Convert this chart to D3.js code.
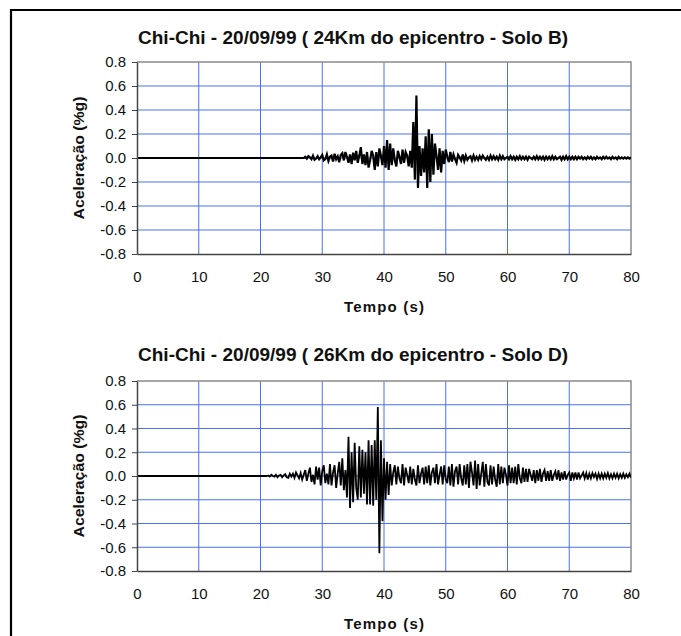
<!DOCTYPE html>
<html>
<head>
<meta charset="utf-8">
<script src="https://d3js.org/d3.v7.min.js"></script>
<style>
  body { margin: 0; background: #fff; }
  svg { display: block; font-family: "Liberation Sans", Arial, sans-serif; }
</style>
</head>
<body>
<svg id="chart" width="681" height="636"></svg>
<script>
// tick labels
var xTicks = [0, 10, 20, 30, 40, 50, 60, 70, 80];
var yTicks = [0.8, 0.6, 0.4, 0.2, 0.0, -0.2, -0.4, -0.6, -0.8];

var titles = ["Chi-Chi - 20/09/99 ( 24Km do epicentro - Solo B)",
              "Chi-Chi - 20/09/99 ( 26Km do epicentro - Solo D)"];

// Solo B record: quiet until 27 s, then samples every 0.25 s
var soloB_start = 27;
var soloB_dt = 0.25;
var soloB_acc = [
  0.01,-0.005,0.015,0.005,-0.01,0.02,-0.015,-0.005,
  0.015,-0.01,0.005,0.025,-0.02,-0.01,0.03,-0.025,
  0.01,0.02,-0.03,0.035,-0.01,0.015,-0.035,0.025,
  0.04,-0.02,0.05,0.01,-0.04,0.03,-0.05,0.045,
  -0.02,0.06,-0.04,0.02,0.09,-0.05,0.03,-0.06,
  0.05,-0.08,-0.02,0.06,0.02,-0.1,0.05,-0.07,
  0.08,0.02,-0.06,0.1,-0.08,0.15,-0.1,0.12,
  -0.06,0.08,-0.02,-0.07,0.06,0.01,-0.05,0.07,
  -0.04,0.05,0.02,-0.07,0.06,-0.08,0.3,-0.18,
  0.52,-0.25,0.1,-0.15,0.08,-0.12,0.18,-0.25,
  0.24,-0.2,0.2,-0.14,0.12,0.02,-0.1,0.08,
  -0.12,0.06,-0.05,0.07,0.01,-0.035,0.05,-0.03,
  0.03,-0.01,-0.04,0.025,0.005,-0.02,0.03,-0.025,
  0.02,-0.015,0.005,0.015,-0.02,0.02,-0.015,0.01,
  -0.015,0.015,-0.01,0.02,0.0,-0.015,0.01,-0.015,
  0.02,-0.01,0.015,-0.01,0.01,-0.015,0.02,-0.01,
  0.015,-0.01,0.0,0.01,-0.01,0.015,-0.01,0.01,
  -0.015,0.01,-0.01,0.015,-0.01,0.01,-0.01,0.01,
  -0.015,0.01,0.0,-0.01,0.01,-0.01,0.015,-0.01,
  0.01,-0.01,0.01,-0.015,0.01,-0.01,0.01,-0.01,
  0.015,-0.01,0.01,-0.01,0.0,0.01,-0.015,0.01,
  -0.01,0.015,-0.01,0.01,-0.01,0.01,-0.01,0.01,
  -0.01,0.01,-0.005,0.01,-0.01,0.005,-0.01,0.01,
  -0.005,0.01,-0.01,0.005,-0.01,0.01,-0.005,0.005,
  -0.01,0.01,-0.005,0.01,-0.005,0.005,-0.01,0.01,
  -0.005,0.005,-0.01,0.01,-0.005,0.005,-0.005,0.005,
  -0.005,0.005,-0.005,0.005
];

// Solo D record: quiet until 21 s
var soloD_start = 21;
var soloD_dt = 0.25;
var soloD_acc = [
  0.005,-0.005,0.01,0.0,-0.005,0.01,-0.01,0.005,
  0.01,-0.01,0.005,0.015,-0.01,-0.015,0.02,-0.005,
  0.02,-0.015,0.03,0.005,-0.02,0.025,-0.03,0.01,
  0.05,-0.04,0.02,0.07,-0.05,0.01,-0.07,0.08,
  -0.03,0.07,-0.08,0.04,0.09,-0.06,0.02,-0.07,
  0.1,-0.08,0.03,0.09,-0.1,0.02,0.12,-0.08,
  0.15,-0.12,0.05,-0.18,0.33,-0.27,0.2,-0.22,
  0.28,-0.1,-0.2,0.25,-0.18,0.22,-0.15,0.2,
  -0.24,0.3,-0.24,0.26,-0.25,0.3,-0.2,0.58,
  -0.65,0.3,-0.38,0.15,-0.2,0.12,-0.16,0.1,
  -0.08,0.03,0.09,-0.07,0.08,-0.02,-0.06,0.1,
  -0.08,0.07,0.01,-0.06,0.08,-0.07,0.06,-0.03,
  -0.08,0.09,-0.06,0.02,0.07,-0.07,0.08,-0.06,
  0.09,-0.08,0.03,0.07,-0.06,0.1,-0.07,0.01,
  0.08,-0.07,0.09,-0.03,-0.06,0.08,-0.08,0.1,
  -0.09,0.04,0.08,-0.07,0.1,-0.02,-0.08,0.09,
  -0.07,0.1,-0.1,0.12,0.03,-0.08,0.13,-0.11,
  0.1,-0.08,0.02,0.12,-0.09,0.1,-0.05,-0.08,
  0.09,-0.07,0.08,-0.03,-0.09,0.1,-0.07,0.08,
  -0.06,0.07,0.01,-0.08,0.09,-0.06,0.07,-0.06,
  0.08,-0.07,0.1,-0.02,-0.06,0.07,-0.05,0.06,
  -0.05,0.06,0.01,-0.04,0.05,-0.06,0.05,-0.04,
  0.06,-0.05,0.02,0.05,-0.04,0.04,-0.04,0.05,
  -0.04,0.01,0.04,-0.03,0.05,-0.04,0.03,-0.03,
  0.04,-0.03,0.01,0.03,-0.04,0.03,-0.02,0.03,
  -0.03,0.03,-0.02,0.005,0.03,-0.02,0.025,-0.03,
  0.02,-0.02,0.025,-0.01,0.02,-0.025,0.02,-0.02,
  0.02,-0.02,0.02,-0.015,0.025,-0.02,0.015,-0.02,
  0.02,-0.015,0.02,-0.02,0.015,-0.015,0.02,-0.015,
  0.015,-0.01,0.02,-0.015
];

function toPoints(start, dt, acc) {
    // flat record before the first sample
    let pts = [{t: 0, a: 0}, {t: start, a: 0}];
    acc.forEach(function(v, i) { pts.push({t: start + (i + 1) * dt, a: v}); });
    return pts;
}

var svg = d3.select("#chart");

// outer frame (right and bottom edges fall outside the picture)
svg.append("path")
  .attr("d", "M11,700 L11,10 L700,10")
  .attr("fill", "none")
  .attr("stroke", "#000")
  .attr("stroke-width", 2.2);

function drawPlot(cfg) {
    let left = 137, right = 631;
    let g = svg.append("g");

    let x = d3.scaleLinear().domain([0, 80]).range([left, right]);
    let y = d3.scaleLinear().domain([-0.8, 0.8]).range([cfg.bottom, cfg.top]);

    // grid
    g.selectAll("line.vgrid")
      .data(xTicks.filter(function(d) { return d > 0 && d < 80; }))
      .enter().append("line")
        .attr("class", "vgrid")
        .attr("x1", function(d) { return x(d); })
        .attr("x2", function(d) { return x(d); })
        .attr("y1", cfg.top)
        .attr("y2", cfg.bottom)
        .attr("stroke", "#4a70ee")
        .attr("stroke-width", 1);

    g.selectAll("line.hgrid")
      .data(yTicks.filter(function(d) { return Math.abs(d) < 0.75; }))
      .enter().append("line")
        .attr("class", "hgrid")
        .attr("x1", left)
        .attr("x2", right)
        .attr("y1", function(d) { return y(d); })
        .attr("y2", function(d) { return y(d); })
        .attr("stroke", "#4a70ee")
        .attr("stroke-width", 1);

    // top / right frame
    g.append("path")
      .attr("d", "M" + left + "," + cfg.top + " L" + right + "," + cfg.top + " L" + right + "," + cfg.bottom)
      .attr("fill", "none")
      .attr("stroke", "#8a8a8a")
      .attr("stroke-width", 1.5);

    // trace
    let clipId = "clip" + cfg.id;
    g.append("clipPath").attr("id", clipId)
      .append("rect")
        .attr("x", left).attr("y", cfg.top)
        .attr("width", right - left).attr("height", cfg.bottom - cfg.top);

    let line = d3.line()
      .x(function(d) { return x(d.t); })
      .y(function(d) { return y(d.a); });

    g.append("path")
      .datum(cfg.points)
      .attr("clip-path", "url(#" + clipId + ")")
      .attr("d", line)
      .attr("fill", "none")
      .attr("stroke", "#000")
      .attr("stroke-width", cfg.lineWidth)
      .attr("stroke-linejoin", "miter");

    // axes
    let yAxis = g.append("g")
      .attr("transform", "translate(" + left + ",0)")
      .call(d3.axisLeft(y).tickValues(yTicks).tickSize(5).tickSizeOuter(0)
        .tickFormat(d3.format(".1f")));
    yAxis.select(".domain").attr("stroke", "#444").attr("stroke-width", 1.5);
    yAxis.selectAll(".tick line").attr("stroke", "#444");
    yAxis.selectAll(".tick text")
      .attr("x", -11)
      .attr("fill", "#111")
      .style("font-size", "15px")
      .text(function(d) { return d3.format(".1f")(d).replace("−", "-"); });

    let xAxis = g.append("g")
      .attr("transform", "translate(0," + cfg.bottom + ")")
      .call(d3.axisBottom(x).tickValues(xTicks).tickSize(0).tickSizeOuter(0));
    xAxis.select(".domain").attr("stroke", "#444").attr("stroke-width", 1.5);
    xAxis.selectAll(".tick text")
      .attr("y", 17)
      .attr("fill", "#111")
      .style("font-size", "15px");

    // titles
    g.append("text")
      .attr("x", 353)
      .attr("y", cfg.titleY)
      .attr("text-anchor", "middle")
      .attr("textLength", 430)
      .attr("lengthAdjust", "spacingAndGlyphs")
      .style("font-size", "18px")
      .style("font-weight", "bold")
      .attr("fill", "#111")
      .text(cfg.title);

    g.append("text")
      .attr("x", 384)
      .attr("y", cfg.bottom + 58)
      .attr("text-anchor", "middle")
      .attr("textLength", 80)
      .attr("lengthAdjust", "spacing")
      .style("font-size", "15px")
      .style("font-weight", "bold")
      .attr("fill", "#111")
      .text("Tempo (s)");

    g.append("text")
      .attr("transform", "translate(84," + ((cfg.top + cfg.bottom) / 2) + ") rotate(-90)")
      .attr("text-anchor", "middle")
      .attr("textLength", 123)
      .attr("lengthAdjust", "spacingAndGlyphs")
      .style("font-size", "15px")
      .style("font-weight", "bold")
      .attr("fill", "#111")
      .text("Aceleração (%g)");
}

drawPlot({id: 1, top: 62, bottom: 254, titleY: 44, title: titles[0], lineWidth: 2.2,
          points: toPoints(soloB_start, soloB_dt, soloB_acc)});
drawPlot({id: 2, top: 381, bottom: 571, titleY: 361, title: titles[1], lineWidth: 1.8,
          points: toPoints(soloD_start, soloD_dt, soloD_acc)});
</script>
</body>
</html>
